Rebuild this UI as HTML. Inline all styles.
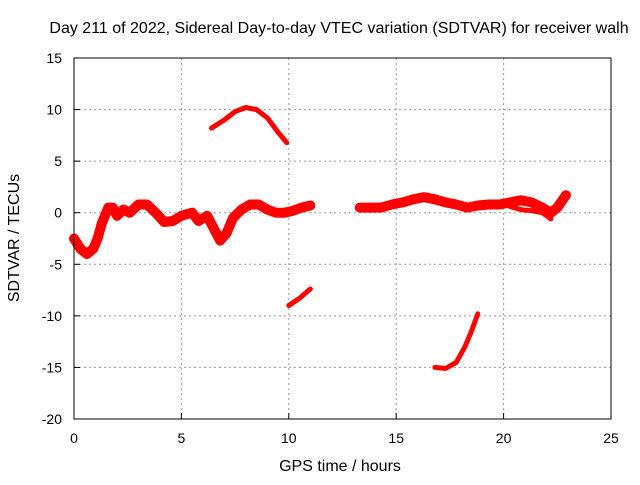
<!DOCTYPE html>
<html><head><meta charset="utf-8"><style>
body{margin:0;background:#fff}
svg text{font-family:"Liberation Sans",sans-serif;font-size:14px;fill:#000}
svg text.big{font-size:16px}
</style></head><body>
<svg id="chart" width="640" height="480">
<text class="big" x="339" y="33" text-anchor="middle">Day 211 of 2022, Sidereal Day-to-day VTEC variation (SDTVAR) for receiver walh</text>
<text class="big" x="340" y="471" text-anchor="middle">GPS time / hours</text>
<text class="big" transform="translate(19,238) rotate(-90)" text-anchor="middle">SDTVAR / TECUs</text>
<g id="grid"></g><g id="axes"></g><g id="marks"></g>
<rect x="74" y="58" width="537" height="361" fill="none" stroke="#000"/>
</svg>
<script>
const xTicks=[0,5,10,15,20,25];
const yTicks=[15,10,5,0,-5,-10,-15,-20];
const segAHours=[0,0.3,0.6,0.9,1.1,1.3,1.6,1.8,2.0,2.3,2.6,3.0,3.4,3.8,4.2,4.6,5.0,5.5,5.8,6.2,6.5,6.8,7.1,7.4,7.8,8.2,8.6,9.0,9.4,9.8,10.2,10.6,11.0];
const segAValues=[-2.5,-3.5,-4.0,-3.5,-2.5,-1.0,0.5,0.5,-0.3,0.3,0,0.8,0.8,0,-0.9,-0.8,-0.3,0,-0.8,-0.3,-1.5,-2.7,-2.0,-0.5,0.3,0.8,0.8,0.3,0,0,0.2,0.5,0.7];
const segBHours=[13.3,13.8,14.3,14.8,15.3,15.8,16.3,16.8,17.3,17.8,18.3,18.8,19.3,19.8,20.3,20.8,21.3,21.8,22.2,22.5,22.9];
const segBValues=[0.5,0.5,0.5,0.8,1.0,1.3,1.5,1.3,1.0,0.8,0.5,0.7,0.8,0.8,1.0,1.2,1.0,0.5,0,0.5,1.7];
const segB2Hours=[20.3,20.8,21.3,21.8,22.2];
const segB2Values=[0.6,0.3,0.2,0,-0.6];
const segCHours=[6.4,7.0,7.5,8.0,8.5,9.0,9.5,9.9];
const segCValues=[8.2,9.0,9.8,10.2,10.0,9.2,7.8,6.8];
const segDHours=[10.0,10.5,11.0];
const segDValues=[-9.0,-8.3,-7.4];
const segEHours=[16.8,17.3,17.8,18.2,18.5,18.8];
const segEValues=[-15.0,-15.1,-14.5,-13.0,-11.5,-9.8];
const X=h=>74+h*(537/25);
const Y=v=>58+(15-v)*(361/35);
const NS='http://www.w3.org/2000/svg';
const grid=document.getElementById('grid'),axes=document.getElementById('axes'),marks=document.getElementById('marks');
function mk(t,a,p){const e=document.createElementNS(NS,t);for(const k in a)e.setAttribute(k,a[k]);p.appendChild(e);return e;}
xTicks.forEach(t=>{
 if(t>0&&t<25){const g=mk('line',{x1:X(t),x2:X(t),y1:58,y2:419,stroke:'#999','stroke-dasharray':'2,3'},grid);
 
 }
 const tk=mk('line',{x1:X(t),x2:X(t),y1:419,y2:413,stroke:'#000'},axes);
 
 
 const tx=mk('text',{x:X(t),y:443,'text-anchor':'middle'},axes);tx.textContent=t;
 
 
});
yTicks.forEach(t=>{
 if(t<15&&t>-20){const g=mk('line',{x1:74,x2:611,y1:Y(t),y2:Y(t),stroke:'#999','stroke-dasharray':'2,3'},grid);
 
 }
 const tk=mk('line',{x1:74,x2:80,y1:Y(t),y2:Y(t),stroke:'#000'},axes);
 
 
 const tx=mk('text',{x:62,y:Y(t)+5,'text-anchor':'end'},axes);tx.textContent=t;
 
 
});
function seg(hs,vs,w,name){
 const d=hs.map((h,i)=>(i?'L':'M')+X(h).toFixed(1)+','+Y(vs[i]).toFixed(1)).join('');
 const p=mk('path',{d:d,fill:'none',stroke:'#f00','stroke-width':w,'stroke-linejoin':'round','stroke-linecap':'round'},marks);
 
 
}
seg(segAHours,segAValues,10,'series-segment-a');
seg(segBHours,segBValues,10,'series-segment-b');
seg(segB2Hours,segB2Values,5,'series-segment-b-lower');
seg(segCHours,segCValues,5,'series-segment-c');
seg(segDHours,segDValues,5,'series-segment-d');
seg(segEHours,segEValues,5,'series-segment-e');
</script>
</body></html>
